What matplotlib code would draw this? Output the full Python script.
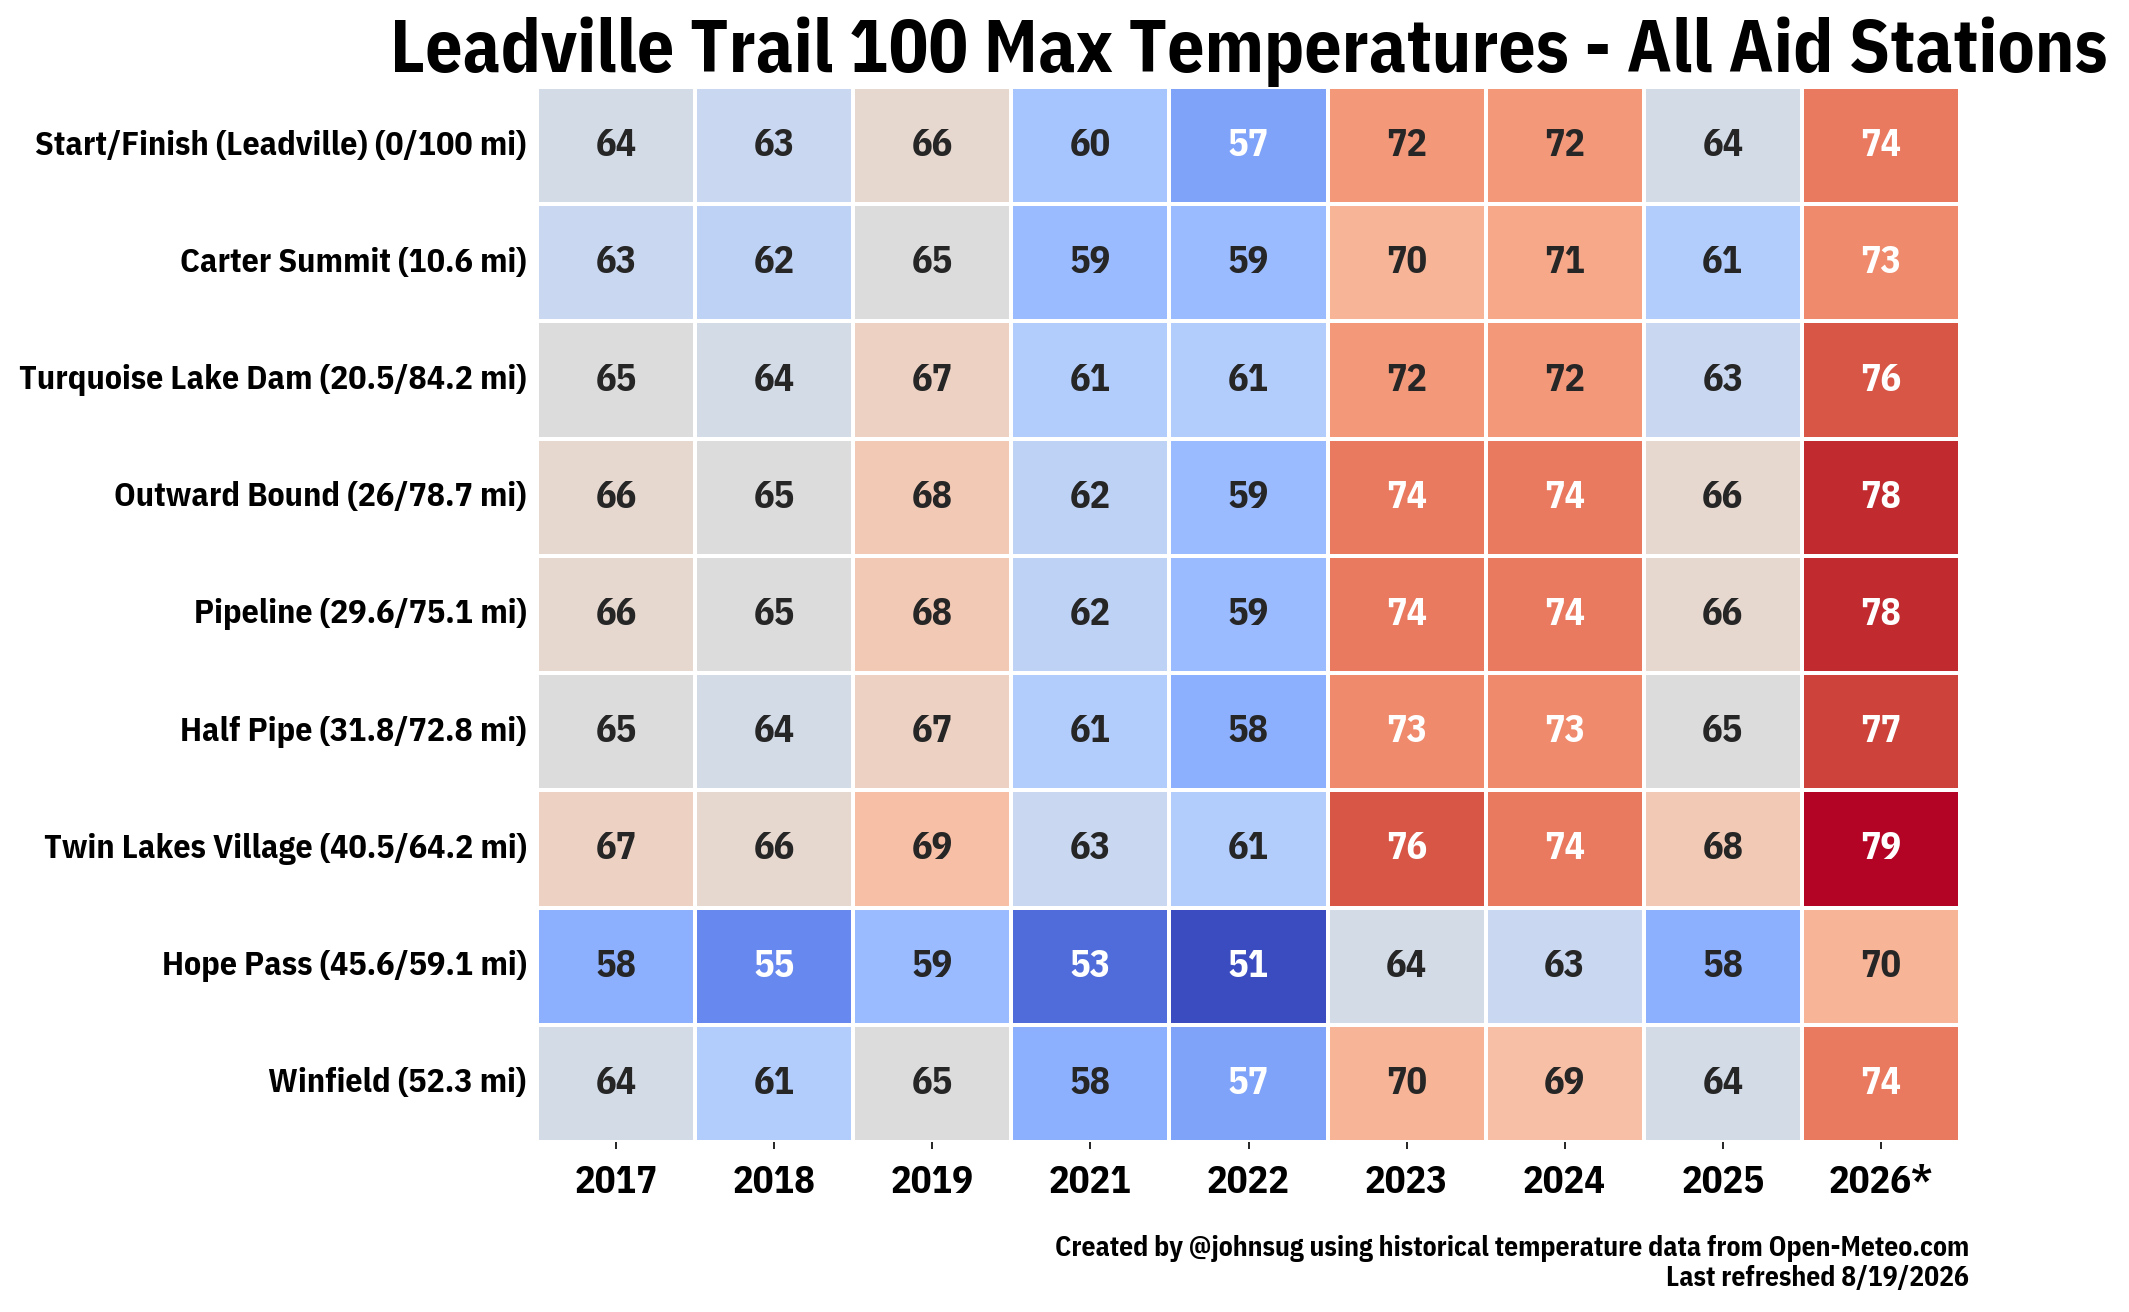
import os
import matplotlib
matplotlib.use("Agg")
import matplotlib.pyplot as plt
from matplotlib import font_manager as fm
import matplotlib.colors as mcolors
import numpy as np
import seaborn as sns
import pandas as pd

stations = [
    "Start/Finish (Leadville) (0/100 mi)",
    "Carter Summit (10.6 mi)",
    "Turquoise Lake Dam (20.5/84.2 mi)",
    "Outward Bound (26/78.7 mi)",
    "Pipeline (29.6/75.1 mi)",
    "Half Pipe (31.8/72.8 mi)",
    "Twin Lakes Village (40.5/64.2 mi)",
    "Hope Pass (45.6/59.1 mi)",
    "Winfield (52.3 mi)",
]
years = ["2017", "2018", "2019", "2021", "2022", "2023", "2024", "2025", "2026*"]

start_finish = [64, 63, 66, 60, 57, 72, 72, 64, 74]
carter = [63, 62, 65, 59, 59, 70, 71, 61, 73]
turquoise = [65, 64, 67, 61, 61, 72, 72, 63, 76]
outward = [66, 65, 68, 62, 59, 74, 74, 66, 78]
pipeline = [66, 65, 68, 62, 59, 74, 74, 66, 78]
half_pipe = [65, 64, 67, 61, 58, 73, 73, 65, 77]
twin_lakes = [67, 66, 69, 63, 61, 76, 74, 68, 79]
hope_pass = [58, 55, 59, 53, 51, 64, 63, 58, 70]
winfield = [64, 61, 65, 58, 57, 70, 69, 64, 74]

df = pd.DataFrame(
    [start_finish, carter, turquoise, outward, pipeline, half_pipe,
     twin_lakes, hope_pass, winfield],
    index=stations, columns=years)


def pick_condensed_bold():
    prefs = ["plex", "roboto", "noto", "opensans", "open", "liberation", "dejavu"]
    found = []
    for f in fm.fontManager.ttflist:
        b = os.path.basename(f.fname).lower()
        if ("condensed" in b or "narrow" in b) and "bold" in b:
            if any(k in b for k in ("italic", "oblique", "semibold", "extrabold",
                                     "extracondensed", "semicondensed", "ultra",
                                     "extra", "semi", "black", "light", "mono")):
                continue
            found.append(f.fname)
    for p in prefs:
        for fn in found:
            if p in os.path.basename(fn).lower():
                return fn
    return found[0] if found else None


fname = pick_condensed_bold()
if fname:
    fp = lambda size: fm.FontProperties(fname=fname, size=size)
else:
    fp = lambda size: fm.FontProperties(family=["Roboto", "DejaVu Sans"],
                                        weight="bold", size=size)

W, H, DPI = 2129, 1312, 150
fig = plt.figure(figsize=(W / DPI, H / DPI), dpi=DPI)
ax = fig.add_axes([537 / W, 1 - 1142 / H, (1960 - 537) / W, (1142 - 87) / H])

cmap = plt.get_cmap("coolwarm")
vmin, vmax = df.values.min(), df.values.max()
sns.heatmap(df, ax=ax, cmap=cmap, vmin=vmin, vmax=vmax, annot=False, cbar=False,
            linewidths=1, linecolor="white")

norm = mcolors.Normalize(vmin=vmin, vmax=vmax)


def rel_lum(rgb):
    arr = np.asarray(rgb[:3], dtype=float)
    arr = np.where(arr <= 0.03928, arr / 12.92, ((arr + 0.055) / 1.055) ** 2.4)
    return 0.2126 * arr[0] + 0.7152 * arr[1] + 0.0722 * arr[2]


annots = []
for i in range(df.shape[0]):
    for j in range(df.shape[1]):
        v = df.iat[i, j]
        c = cmap(norm(v))
        tc = ".15" if rel_lum(c) > 0.408 else "white"
        annots.append(ax.text(j + 0.5, i + 0.5, f"{v:d}", ha="center", va="center",
                              color=tc, fontproperties=fp(16)))

title = ax.set_title("Leadville Trail 100 Max Temperatures - All Aid Stations",
                     fontproperties=fp(30), pad=3)
ax.tick_params(axis="y", length=0, pad=5)
ax.tick_params(axis="x", length=3.4, pad=7)
ax.set_xlabel("")
ax.set_ylabel("")
ax.set_xticklabels(years, rotation=0, fontproperties=fp(17))
ax.set_yticklabels(stations, rotation=0, fontproperties=fp(14))

foot1 = fig.text(1969 / W, 1 - 1249 / H,
                 "Created by @johnsug using historical temperature data from Open-Meteo.com",
                 ha="right", va="center", fontproperties=fp(11))
foot2 = fig.text(1969 / W, 1 - 1279 / H, "Last refreshed 8/19/2026",
                 ha="right", va="center", fontproperties=fp(11))

renderer = fig.canvas.get_renderer()


def fit(texts, ref_text, target_px):
    w = ref_text.get_window_extent(renderer).width
    size = ref_text.get_fontsize() * target_px / w
    for t in texts:
        t.set_fontsize(size)


fit([title], title, 1718)
ylabels = ax.get_yticklabels()
fit(ylabels, ylabels[0], 489)
xlabels = ax.get_xticklabels()
fit(xlabels, xlabels[5], 83)
fit([foot1, foot2], foot1, 914)
fit(annots, annots[5], 41)

fig.savefig("out.png", dpi=DPI)
